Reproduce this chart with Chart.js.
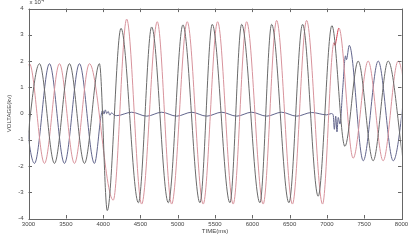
<!DOCTYPE html>
<html>
<head>
<meta charset="utf-8">
<style>
  html, body { margin: 0; padding: 0; background: #fff; }
  canvas { display: block; }
</style>
<script src="https://cdn.jsdelivr.net/npm/chart.js@4/dist/chart.umd.min.js"></script>
</head>
<body>
<canvas id="wave" width="413" height="242"></canvas>
<script>
// turning points of each phase (time in ms, voltage x 10^4)
var phaseATimes = [2946, 3147, 3348, 3549, 3750, 3951, 4056, 4240, 4473, 4651, 4874, 5070, 5298, 5463, 5700, 5857,
  6102, 6259, 6491, 6674, 6883, 7067, 7241, 7419, 7620, 7821, 8022];
var phaseAVolts = [-1.9, 1.9, -1.9, 1.9, -1.9, 1.9, -3.7, 3.25, -3.4, 3.3, -3.4, 3.38, -3.4, 3.4, -3.4, 3.4,
  -3.4, 3.4, -3.4, 3.4, -3.15, 3.35, -1.25, 2.0, -1.8, 2.0, -1.8];

var phaseBTimes = [2812, 3013, 3214, 3415, 3616, 3817, 4136, 4316, 4517, 4726, 4919, 5128, 5342, 5535, 5744, 5924,
  6146, 6326, 6538, 6728, 6942, 7095, 7110, 7125, 7161, 7352, 7553, 7754, 7955, 8156];
var phaseBVolts = [-1.9, 1.9, -1.9, 1.9, -1.9, 1.9, -3.3, 3.6, -3.45, 3.5, -3.45, 3.5, -3.45, 3.5, -3.45, 3.5,
  -3.45, 3.55, -3.45, 3.55, -3.45, 2.7, 2.6, 2.8, 3.26, -1.7, 2.0, -1.8, 2.0, -1.8];

var phaseCTimes = [2879, 3080, 3281, 3482, 3683, 3884, 3994, 4012, 4030, 4048, 4068, 4090, 4115, 4145, 4182,
  4383, 4584, 4785, 4986, 5187, 5388, 5589, 5790, 5991, 6192, 6393, 6594, 6796, 6997, 7060,
  7084, 7100, 7118, 7135, 7152, 7175, 7211, 7250, 7262, 7300, 7487, 7688, 7889, 8090];
var phaseCVolts = [1.9, -1.9, 1.9, -1.9, 1.9, -1.9, 0.12, -0.02, 0.14, 0.0, 0.08, -0.06, 0.03, -0.05, -0.08,
  0.05, -0.1, 0.05, -0.1, 0.05, -0.1, 0.05, -0.1, 0.05, -0.1, 0.05, -0.1, 0.04, -0.05, 0.0,
  -0.05, -0.6, -0.1, -0.7, -0.15, -0.4, 0.9, 2.2, 2.05, 2.6, -1.8, 2.0, -1.8, 2.0];

var timeTicks = [3000, 3500, 4000, 4500, 5000, 5500, 6000, 6500, 7000, 7500, 8000];
var voltTicks = [-4, -3, -2, -1, 0, 1, 2, 3, 4];

var labelFont = { family: '"Liberation Sans", Arial, sans-serif', size: 6 };

var toPoints = function(times, volts) {
  return times.map(function(t, i) { return { x: t, y: volts[i] }; });
};

// matlab style box with ticks pointing inwards on every side
var boxPlugin = {
  id: 'box',
  afterDraw: function(chart) {
    var ctx = chart.ctx;
    var area = chart.chartArea;
    var xs = chart.scales.x;
    var ys = chart.scales.y;
    var len = 3.5;
    ctx.save();
    ctx.strokeStyle = '#666';
    ctx.lineWidth = 1;
    ctx.strokeRect(Math.round(area.left) + 0.5, Math.round(area.top) + 0.5,
      Math.round(area.right - area.left), Math.round(area.bottom - area.top));
    ctx.beginPath();
    timeTicks.forEach(function(t) {
      var px = Math.round(xs.getPixelForValue(t)) + 0.5;
      ctx.moveTo(px, area.bottom); ctx.lineTo(px, area.bottom - len);
      ctx.moveTo(px, area.top); ctx.lineTo(px, area.top + len);
    });
    voltTicks.forEach(function(v) {
      var py = Math.round(ys.getPixelForValue(v)) + 0.5;
      ctx.moveTo(area.left, py); ctx.lineTo(area.left + len, py);
      ctx.moveTo(area.right, py); ctx.lineTo(area.right - len, py);
    });
    ctx.stroke();

    // exponent note above the axis
    ctx.fillStyle = '#444';
    ctx.textBaseline = 'alphabetic';
    ctx.font = '6px "Liberation Sans", Arial, sans-serif';
    ctx.fillText('x 10', area.left + 1, 4);
    ctx.font = '4.5px "Liberation Sans", Arial, sans-serif';
    ctx.fillText('4', area.left + 13, 1.5);
    ctx.restore();
  }
};

var redNoise = function(ctx) {
  var t = ctx.p0.parsed.x;
  return (t >= 7080 && t < 7150) ? '#d23a4a' : undefined;
};

var plainNumber = function(value) { return String(value); };

new Chart(document.getElementById('wave'), {
  type: 'line',
  data: {
    datasets: [
      { label: 'A', data: toPoints(phaseATimes, phaseAVolts), borderColor: '#6a6a6a' },
      { label: 'B', data: toPoints(phaseBTimes, phaseBVolts), borderColor: '#d8939c', segment: { borderColor: redNoise } },
      { label: 'C', data: toPoints(phaseCTimes, phaseCVolts), borderColor: '#62658c' }
    ]
  },
  options: {
    responsive: false,
    animation: false,
    layout: { padding: { top: 5, right: 11.5, left: 0, bottom: 0 } },
    elements: {
      point: { radius: 0 },
      line: { borderWidth: 1, cubicInterpolationMode: 'monotone', fill: false }
    },
    plugins: { legend: { display: false }, tooltip: { enabled: false } },
    scales: {
      x: {
        type: 'linear',
        min: 3000,
        max: 8000,
        afterFit: function(scale) { scale.height = 23.5; },
        afterBuildTicks: function(scale) { scale.ticks = timeTicks.map(function(v) { return { value: v }; }); },
        grid: { display: false, drawTicks: false },
        border: { display: false },
        ticks: { font: labelFont, color: '#444', padding: 2.5, maxRotation: 0, autoSkip: false, callback: plainNumber },
        title: { display: true, text: 'TIME(ms)', font: labelFont, color: '#444', padding: { top: 0, bottom: 7 } }
      },
      y: {
        min: -4,
        max: 4,
        afterFit: function(scale) { scale.width = 28.5; },
        afterBuildTicks: function(scale) { scale.ticks = voltTicks.map(function(v) { return { value: v }; }); },
        grid: { display: false, drawTicks: false },
        border: { display: false },
        ticks: { font: labelFont, color: '#444', padding: 5, autoSkip: false, callback: plainNumber },
        title: { display: true, text: 'VOLTAGE(kv)', font: labelFont, color: '#444', padding: { top: 5.5, bottom: 0 } }
      }
    }
  },
  plugins: [boxPlugin]
});
</script>
</body>
</html>
